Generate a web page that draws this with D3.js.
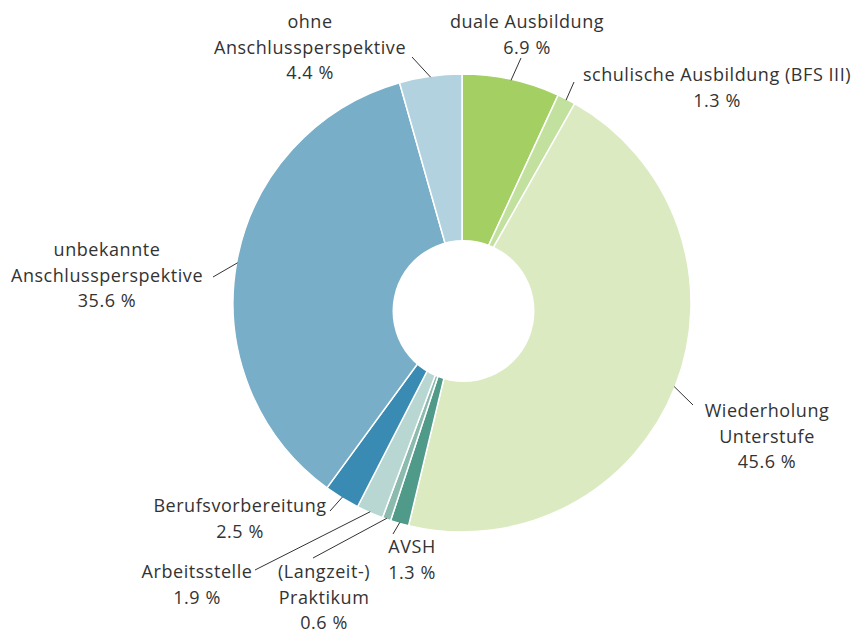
<!DOCTYPE html>
<html>
<head>
<meta charset="utf-8">
<script src="https://cdn.jsdelivr.net/npm/d3@7"></script>
<style>
  html, body { margin: 0; padding: 0; background: #ffffff; }
  svg { display: block; }
  text { font-family: "Open Sans", "Noto Sans", sans-serif; font-size: 18px; letter-spacing: 0.55px; fill: #333333; }
</style>
</head>
<body>
<svg id="chart" width="859" height="634"></svg>
<script>
// ---- data ----
const categories = [
  "duale Ausbildung",
  "schulische Ausbildung (BFS III)",
  "Wiederholung Unterstufe",
  "AVSH",
  "(Langzeit-) Praktikum",
  "Arbeitsstelle",
  "Berufsvorbereitung",
  "unbekannte Anschlussperspektive",
  "ohne Anschlussperspektive"
];
const values = [6.9, 1.3, 45.6, 1.3, 0.6, 1.9, 2.5, 35.6, 4.4];
const labelLines = [
  ["duale Ausbildung"],
  ["schulische Ausbildung (BFS III)"],
  ["Wiederholung", "Unterstufe"],
  ["AVSH"],
  ["(Langzeit-)", "Praktikum"],
  ["Arbeitsstelle"],
  ["Berufsvorbereitung"],
  ["unbekannte", "Anschlussperspektive"],
  ["ohne", "Anschlussperspektive"]
];
const colors = ["#a3cf63", "#c2e09e", "#dbeac1", "#4f9a88", "#8bbaaf", "#b9d7d2", "#3a8bb3", "#78aec8", "#b3d2df"];

// ---- layout (positions only) ----
const cx = 462, cy = 303, outerR = 229;
const hole = { x: 463.5, y: 311, r: 71 };
const lineH = 25.5;
// [text centre x, first baseline y, leader end x, leader end y]
const labelPos = [
  [527, 28, 521, 58],
  [717, 81, 574, 82],
  [767, 417, 693, 405],
  [412, 553, 393, 534],
  [324, 578, 313, 558],
  [197, 578, 255, 570],
  [240, 512, 330, 511],
  [107, 256, 213, 277],
  [310, 28, 412, 57]
];

const fmt = v => v.toFixed(1) + " %";

const svg = d3.select("#chart");
const g = svg.append("g").attr("transform", `translate(${cx},${cy})`);

const pie = d3.pie().sort(null).value(d => d)(values);
const arc = d3.arc().innerRadius(0).outerRadius(outerR);

g.selectAll("path.slice")
  .data(pie)
  .enter().append("path")
  .attr("class", "slice")
  .attr("d", arc)
  .attr("fill", (d, i) => colors[i])
  .attr("stroke", "#ffffff")
  .attr("stroke-width", 1.5)
  .attr("stroke-linejoin", "round");

// donut hole
svg.append("circle")
  .attr("cx", hole.x).attr("cy", hole.y).attr("r", hole.r)
  .attr("fill", "#ffffff");

// leader lines
pie.forEach((d, i) => {
  const a = (d.startAngle + d.endAngle) / 2;
  const sx = cx + (outerR - 1) * Math.sin(a);
  const sy = cy - (outerR - 1) * Math.cos(a);
  const p = labelPos[i];
  svg.append("line")
    .attr("x1", sx).attr("y1", sy)
    .attr("x2", p[2]).attr("y2", p[3])
    .attr("stroke", "#333333")
    .attr("stroke-width", 1);
});

// labels
pie.forEach((d, i) => {
  const p = labelPos[i];
  const lines = labelLines[i].concat([fmt(values[i])]);
  const t = svg.append("text").attr("text-anchor", "middle");
  lines.forEach((ln, k) => {
    t.append("tspan").attr("x", p[0]).attr("y", p[1] + k * lineH).text(ln);
  });
});
</script>
</body>
</html>
